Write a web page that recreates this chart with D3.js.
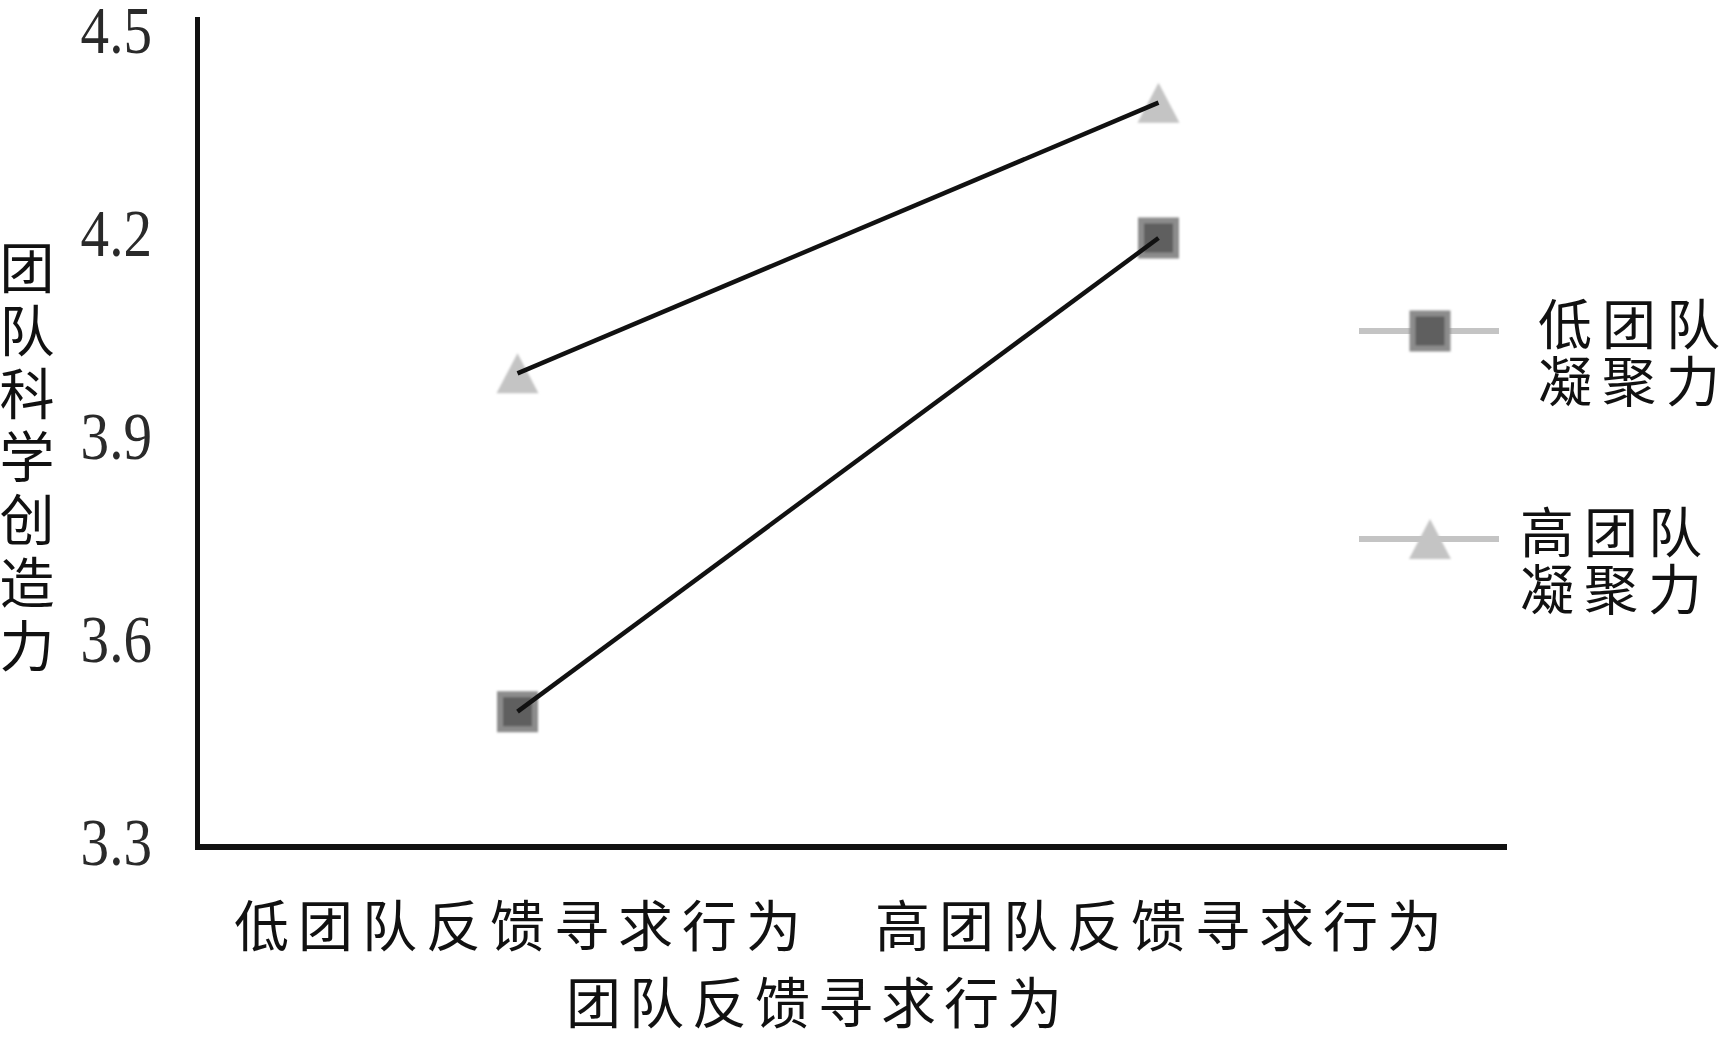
<!DOCTYPE html>
<html>
<head>
<meta charset="utf-8">
<script src="https://cdn.jsdelivr.net/npm/d3@7"></script>
<style>
  body { margin: 0; background: #fff; }
  svg { display: block; }
</style>
</head>
<body>
<div id="chart"></div>
<script>
// data
const categories = ["低团队反馈寻求行为", "高团队反馈寻求行为"];
const seriesNames = ["低团队凝聚力", "高团队凝聚力"];
const lowCohesion = [3.50, 4.20];
const highCohesion = [4.00, 4.40];
const yTicks = [3.3, 3.6, 3.9, 4.2, 4.5];
const xTitle = "团队反馈寻求行为";
const yTitle = "团队科学创造力";

const width = 1719, height = 1037;
const cjk = '"Noto Sans CJK SC", "Noto Sans CJK TC", sans-serif';

const svg = d3.select("#chart")
  .append("svg")
  .attr("width", width)
  .attr("height", height);

svg.append("rect").attr("width", width).attr("height", height).attr("fill", "#fff");

// soft edges like the scanned original
const defs = svg.append("defs");
defs.append("filter").attr("id", "soft")
  .attr("x", "-20%").attr("y", "-20%").attr("width", "140%").attr("height", "140%")
  .append("feGaussianBlur").attr("stdDeviation", 0.9);

// scales
const x = d3.scalePoint()
  .domain(categories)
  .range([197, 1479])
  .padding(0.5);

const y = d3.scaleLinear()
  .domain([3.3, 4.5])
  .range([847, 35]);

// axis lines
svg.append("line")
  .attr("x1", 197.5).attr("x2", 197.5)
  .attr("y1", 17).attr("y2", y(3.3) + 2)
  .attr("stroke", "#111").attr("stroke-width", 5);

svg.append("line")
  .attr("x1", 195).attr("x2", 1507)
  .attr("y1", y(3.3)).attr("y2", y(3.3))
  .attr("stroke", "#111").attr("stroke-width", 6);

// y ticks
const yAxis = svg.append("g")
  .attr("transform", "translate(152,0)")
  .call(d3.axisLeft(y).tickValues(yTicks).tickSize(0).tickPadding(0).tickFormat(d3.format(".1f")));
yAxis.select(".domain").remove();
yAxis.selectAll("text")
  .attr("x", 0)
  .attr("dy", "0.26em")
  .attr("transform", "scale(0.84,1)")
  .style("font-family", '"Liberation Serif", "DejaVu Serif", serif')
  .style("font-size", "68px")
  .attr("fill", "#2a2a2a")
  .attr("text-anchor", "end");

// x ticks
const xAxis = svg.append("g")
  .attr("transform", `translate(0,${y(3.3)})`)
  .call(d3.axisBottom(x).tickSize(0).tickPadding(0));
xAxis.select(".domain").remove();
xAxis.selectAll("text")
  .attr("y", 80)
  .attr("dy", "0.35em")
  .attr("dx", 4)
  .style("font-family", cjk)
  .style("font-size", "55px")
  .style("letter-spacing", "9px")
  .attr("fill", "#111");

// axis titles
svg.append("text")
  .attr("x", 818)
  .attr("y", 1004)
  .attr("dy", "0.35em")
  .attr("text-anchor", "middle")
  .style("font-family", cjk)
  .style("font-size", "55px")
  .style("letter-spacing", "8px")
  .attr("fill", "#111")
  .text(xTitle);

// vertical y title, one character per row
svg.append("text")
  .attr("x", 27)
  .attr("y", 240)
  .style("writing-mode", "vertical-rl")
  .style("glyph-orientation-vertical", "0")
  .style("font-family", cjk)
  .style("font-size", "55px")
  .style("letter-spacing", "8px")
  .attr("fill", "#111")
  .text(yTitle);

// markers
const square = d3.symbol(d3.symbolSquare, 35 * 35);
const triangle = d3.symbol({
  draw(ctx, size) {
    const h = Math.sqrt(size);
    ctx.moveTo(0, -h / 2);
    ctx.lineTo(h / 2 + 1, h / 2);
    ctx.lineTo(-h / 2 - 1, h / 2);
    ctx.closePath();
  }
}, 40 * 40);

const series = [
  { name: seriesNames[0], values: lowCohesion, symbol: square, fill: "#5f5f5f", stroke: "#8c8c8c", sw: 6 },
  { name: seriesNames[1], values: highCohesion, symbol: triangle, fill: "#c4c4c4", stroke: "none", sw: 0 }
];

const line = d3.line()
  .x((d, i) => x(categories[i]))
  .y(d => y(d));

series.forEach(s => {
  svg.append("g").attr("filter", "url(#soft)")
    .selectAll("path")
    .data(s.values)
    .join("path")
    .attr("d", s.symbol)
    .attr("transform", (d, i) => `translate(${x(categories[i])},${y(d)})`)
    .attr("fill", s.fill)
    .attr("stroke", s.stroke)
    .attr("stroke-width", s.sw);
});

series.forEach(s => {
  svg.append("path")
    .datum(s.values)
    .attr("d", line)
    .attr("fill", "none")
    .attr("stroke", "#111")
    .attr("stroke-width", 4.5);
});

// legend
const legendRows = [
  { y: 331, textX: 1538 },
  { y: 539, textX: 1520 }
];

series.forEach((s, i) => {
  const row = legendRows[i];
  const g = svg.append("g");
  g.append("line")
    .attr("x1", 1359).attr("x2", 1499)
    .attr("y1", row.y).attr("y2", row.y)
    .attr("stroke", "#c4c4c4").attr("stroke-width", 6);
  g.append("path")
    .attr("d", s.symbol)
    .attr("transform", `translate(1430,${row.y})`)
    .attr("fill", s.fill)
    .attr("stroke", s.stroke)
    .attr("stroke-width", s.sw)
    .attr("filter", "url(#soft)");
  const label = g.append("text")
    .attr("y", row.y - 5)
    .style("font-family", cjk)
    .style("font-size", "54px")
    .style("letter-spacing", "10px")
    .attr("fill", "#111");
  label.selectAll("tspan")
    .data([s.name.slice(0, 3), s.name.slice(3)])
    .join("tspan")
    .attr("x", row.textX)
    .attr("dy", (d, j) => j === 0 ? "0.35em" : "57px")
    .text(d => d);
});
</script>
</body>
</html>
